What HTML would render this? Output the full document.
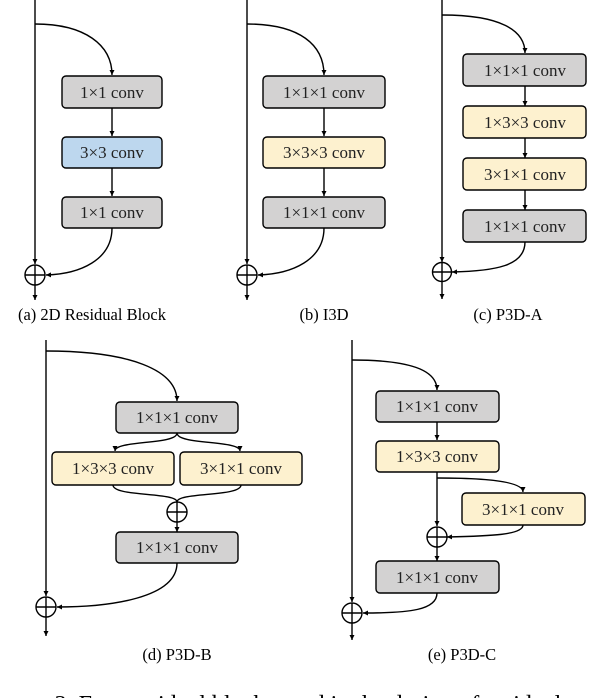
<!DOCTYPE html>
<html><head><meta charset="utf-8"><style>body{margin:0;background:#fff}svg{display:block}</style></head><body>
<svg width="600" height="698" viewBox="0 0 600 698" xmlns="http://www.w3.org/2000/svg" font-family="Liberation Serif, serif">
<defs><marker id="a" markerWidth="6" markerHeight="6" refX="5" refY="3" orient="auto" markerUnits="userSpaceOnUse"><path d="M0,0.5 L5,3 L0,5.5z" fill="#000"/></marker></defs>
<g stroke="#000" stroke-width="1.4" fill="none">
<!-- a -->
<line x1="35" y1="0" x2="35" y2="264" marker-end="url(#a)"/>
<line x1="35" y1="265" x2="35" y2="300" marker-end="url(#a)"/>
<path d="M35,24 C85,24 112,45 112,75" marker-end="url(#a)"/>
<line x1="112" y1="108" x2="112" y2="136" marker-end="url(#a)"/>
<line x1="112" y1="168" x2="112" y2="196" marker-end="url(#a)"/>
<path d="M112,228 C112,260 80,274 46,275" marker-end="url(#a)"/>
<circle cx="35" cy="275" r="10"/><line x1="25" y1="275" x2="45" y2="275"/>
<!-- b -->
<line x1="247" y1="0" x2="247" y2="264" marker-end="url(#a)"/>
<line x1="247" y1="265" x2="247" y2="300" marker-end="url(#a)"/>
<path d="M247,24 C300,24 324,45 324,75" marker-end="url(#a)"/>
<line x1="324" y1="108" x2="324" y2="136" marker-end="url(#a)"/>
<line x1="324" y1="168" x2="324" y2="196" marker-end="url(#a)"/>
<path d="M324,228 C324,260 292,274 258,275" marker-end="url(#a)"/>
<circle cx="247" cy="275" r="10"/><line x1="237" y1="275" x2="257" y2="275"/>
<!-- c -->
<line x1="442" y1="0" x2="442" y2="262" marker-end="url(#a)"/>
<line x1="442" y1="262" x2="442" y2="299" marker-end="url(#a)"/>
<path d="M442,15 C500,15 525,30 525,53" marker-end="url(#a)"/>
<line x1="525" y1="86" x2="525" y2="106" marker-end="url(#a)"/>
<line x1="525" y1="138" x2="525" y2="158" marker-end="url(#a)"/>
<line x1="525" y1="190" x2="525" y2="210" marker-end="url(#a)"/>
<path d="M525,242 C525,266 495,271 452,272" marker-end="url(#a)"/>
<circle cx="442" cy="272" r="9.5"/><line x1="432.5" y1="272" x2="451.5" y2="272"/>
<!-- d -->
<line x1="46" y1="340" x2="46" y2="596" marker-end="url(#a)"/>
<line x1="46" y1="597" x2="46" y2="636" marker-end="url(#a)"/>
<path d="M46,351 C130,351 177,370 177,401" marker-end="url(#a)"/>
<path d="M177,433 C177,445 115,440 115,451" marker-end="url(#a)"/>
<path d="M177,433 C177,445 240,440 240,451" marker-end="url(#a)"/>
<path d="M113,485 C113,497 177,492 177,502"/>
<path d="M241,485 C241,497 177,492 177,502"/>
<line x1="177" y1="522" x2="177" y2="532" marker-end="url(#a)"/>
<path d="M177,563 C177,598 110,607 57,607" marker-end="url(#a)"/>
<circle cx="177" cy="512" r="10"/><line x1="167" y1="512" x2="187" y2="512"/><line x1="177" y1="502" x2="177" y2="522"/>
<circle cx="46" cy="607" r="10"/><line x1="36" y1="607" x2="56" y2="607"/>
<!-- e -->
<line x1="352" y1="340" x2="352" y2="602" marker-end="url(#a)"/>
<line x1="352" y1="603" x2="352" y2="640" marker-end="url(#a)"/>
<path d="M352,360 C410,360 437,370 437,390" marker-end="url(#a)"/>
<line x1="437" y1="422" x2="437" y2="440" marker-end="url(#a)"/>
<line x1="437" y1="472" x2="437" y2="526" marker-end="url(#a)"/>
<path d="M437,478 C490,478 523,482 523,492" marker-end="url(#a)"/>
<path d="M523,525 C523,535 490,536 447,537" marker-end="url(#a)"/>
<line x1="437" y1="547" x2="437" y2="561" marker-end="url(#a)"/>
<path d="M437,593 C437,610 410,613 363,613" marker-end="url(#a)"/>
<circle cx="437" cy="537" r="10"/><line x1="427" y1="537" x2="447" y2="537"/><line x1="437" y1="527" x2="437" y2="547"/>
<circle cx="352" cy="613" r="10"/><line x1="342" y1="613" x2="362" y2="613"/>
</g>
<g stroke="#000" stroke-width="1.4">
<rect x="62" y="76" width="100" height="32" rx="4" fill="#d3d2d2"/>
<rect x="62" y="137" width="100" height="31" rx="4" fill="#bdd7ee"/>
<rect x="62" y="197" width="100" height="31" rx="4" fill="#d3d2d2"/>
<rect x="263" y="76" width="122" height="32" rx="4" fill="#d3d2d2"/>
<rect x="263" y="137" width="122" height="31" rx="4" fill="#fdf1cf"/>
<rect x="263" y="197" width="122" height="31" rx="4" fill="#d3d2d2"/>
<rect x="463" y="54" width="123" height="32" rx="4" fill="#d3d2d2"/>
<rect x="463" y="106" width="123" height="32" rx="4" fill="#fdf1cf"/>
<rect x="463" y="158" width="123" height="32" rx="4" fill="#fdf1cf"/>
<rect x="463" y="210" width="123" height="32" rx="4" fill="#d3d2d2"/>
<rect x="116" y="402" width="122" height="31" rx="4" fill="#d3d2d2"/>
<rect x="52" y="452" width="122" height="33" rx="4" fill="#fdf1cf"/>
<rect x="180" y="452" width="122" height="33" rx="4" fill="#fdf1cf"/>
<rect x="116" y="532" width="122" height="31" rx="4" fill="#d3d2d2"/>
<rect x="376" y="391" width="123" height="31" rx="4" fill="#d3d2d2"/>
<rect x="376" y="441" width="123" height="31" rx="4" fill="#fdf1cf"/>
<rect x="462" y="493" width="123" height="32" rx="4" fill="#fdf1cf"/>
<rect x="376" y="561" width="123" height="32" rx="4" fill="#d3d2d2"/>
</g>
<g font-size="17" text-anchor="middle" fill="#222">
<text x="112" y="98">1×1 conv</text>
<text x="112" y="158">3×3 conv</text>
<text x="112" y="218">1×1 conv</text>
<text x="324" y="98">1×1×1 conv</text>
<text x="324" y="158">3×3×3 conv</text>
<text x="324" y="218">1×1×1 conv</text>
<text x="525" y="76">1×1×1 conv</text>
<text x="525" y="128">1×3×3 conv</text>
<text x="525" y="180">3×1×1 conv</text>
<text x="525" y="232">1×1×1 conv</text>
<text x="177" y="423">1×1×1 conv</text>
<text x="113" y="474">1×3×3 conv</text>
<text x="241" y="474">3×1×1 conv</text>
<text x="177" y="553">1×1×1 conv</text>
<text x="437" y="412">1×1×1 conv</text>
<text x="437" y="462">1×3×3 conv</text>
<text x="523" y="515">3×1×1 conv</text>
<text x="437" y="583">1×1×1 conv</text>
</g>
<g font-size="16.5" text-anchor="middle" fill="#000">
<text x="92" y="320">(a) 2D Residual Block</text>
<text x="324" y="320">(b) I3D</text>
<text x="508" y="320">(c) P3D-A</text>
<text x="177" y="660">(d) P3D-B</text>
<text x="462" y="660">(e) P3D-C</text>
</g>
<text x="38" y="712" font-size="24" fill="#000">e 3. Four residual blocks used in the design of residual network</text>
</svg>
</body></html>
